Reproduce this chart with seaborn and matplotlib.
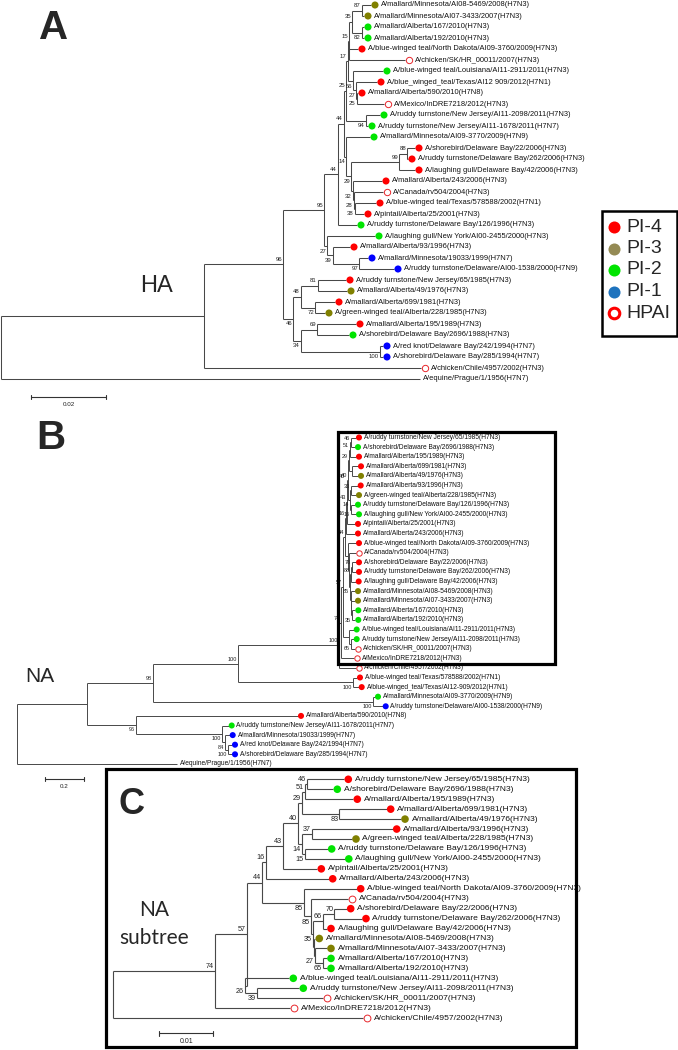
import matplotlib
matplotlib.use("Agg")
import numpy as np
import pandas as pd
import seaborn as sns
import matplotlib.pyplot as plt
from matplotlib.patches import Rectangle

sns.set_theme(style="white")
plt.rcParams['font.family'] = ['Liberation Sans', 'DejaVu Sans']

# ------------------------------------------------------------------ data
CAT_COLORS = {"PI-4": "#ff0000", "PI-3": "#808000", "PI-2": "#00e400", "PI-1": "#0000ff"}
HPAI_COLOR = "#e8262b"
LEGEND_LABELS = ["PI-4", "PI-3", "PI-2", "PI-1", "HPAI"]
LEGEND_COLORS = ["#ff0000", "#948a54", "#00e400", "#1e73be", "#ff0000"]

# ---- Panel A (HA)
A_leaves = [
    "A/mallard/Minnesota/AI08-5469/2008(H7N3)", "A/mallard/Minnesota/AI07-3433/2007(H7N3)",
    "A/mallard/Alberta/167/2010(H7N3)", "A/mallard/Alberta/192/2010(H7N3)",
    "A/blue-winged teal/North Dakota/AI09-3760/2009(H7N3)", "A/chicken/SK/HR_00011/2007(H7N3)",
    "A/blue-winged teal/Louisiana/AI11-2911/2011(H7N3)", "A/blue_winged_teal/Texas/AI12 909/2012(H7N1)",
    "A/mallard/Alberta/590/2010(H7N8)", "A/Mexico/InDRE7218/2012(H7N3)",
    "A/ruddy turnstone/New Jersey/AI11-2098/2011(H7N3)", "A/ruddy turnstone/New Jersey/AI11-1678/2011(H7N7)",
    "A/mallard/Minnesota/AI09-3770/2009(H7N9)", "A/shorebird/Delaware Bay/22/2006(H7N3)",
    "A/ruddy turnstone/Delaware Bay/262/2006(H7N3)", "A/laughing gull/Delaware Bay/42/2006(H7N3)",
    "A/mallard/Alberta/243/2006(H7N3)", "A/Canada/rv504/2004(H7N3)",
    "A/blue-winged teal/Texas/578588/2002(H7N1)", "A/pintail/Alberta/25/2001(H7N3)",
    "A/ruddy turnstone/Delaware Bay/126/1996(H7N3)", "A/laughing gull/New York/AI00-2455/2000(H7N3)",
    "A/mallard/Alberta/93/1996(H7N3)", "A/mallard/Minnesota/19033/1999(H7N7)",
    "A/ruddy turnstone/Delaware/AI00-1538/2000(H7N9)", "A/ruddy turnstone/New Jersey/65/1985(H7N3)",
    "A/mallard/Alberta/49/1976(H7N3)", "A/mallard/Alberta/699/1981(H7N3)",
    "A/green-winged teal/Alberta/228/1985(H7N3)", "A/mallard/Alberta/195/1989(H7N3)",
    "A/shorebird/Delaware Bay/2696/1988(H7N3)", "A/red knot/Delaware Bay/242/1994(H7N7)",
    "A/shorebird/Delaware Bay/285/1994(H7N7)", "A/chicken/Chile/4957/2002(H7N3)",
    "A/equine/Prague/1/1956(H7N7)"]
A_cats = ["PI-3", "PI-3", "PI-2", "PI-2", "PI-4", "HPAI", "PI-2", "PI-4", "PI-4", "HPAI",
          "PI-2", "PI-2", "PI-2", "PI-4", "PI-4", "PI-4", "PI-4", "HPAI", "PI-4", "PI-4",
          "PI-2", "PI-2", "PI-4", "PI-1", "PI-1", "PI-4", "PI-3", "PI-4", "PI-3", "PI-4",
          "PI-2", "PI-1", "PI-1", "HPAI", "none"]
A_tip_depth = [371, 364, 364, 364, 358, 405, 383, 377, 358, 384, 380, 368, 370, 415, 408, 415,
               382, 383, 376, 364, 357, 375, 350, 368, 394, 346, 347, 335, 325, 356, 349,
               383, 383, 421, 420]
A_node_ids = ["n87", "n82", "n35", "n15", "n25b", "n27", "n56", "n17", "n94", "n25", "n88", "n99",
              "n38", "n28", "n32", "n29", "n14", "n44b", "n44", "n97", "n39", "n27b", "n95",
              "n81", "n72", "n48", "n69", "n100", "n34", "n46", "n96", "nB", "root"]
A_node_depth = [362, 362, 352, 349, 356.5, 356, 353, 347.5, 366, 346, 407, 399,
                354.5, 353.5, 352.5, 351, 346, 344, 338, 359, 333, 327, 324,
                318, 315, 301, 317, 380, 301, 293, 283, 204, 1]
A_node_children = [[0, 1], [2, 3], ["n87", "n82"], ["n35", 4, 5], [8, 9], [7, "n25b"], [6, "n27"],
                   ["n15", "n56"], [10, 11], ["n17", "n94"], [13, 14], ["n88", 15],
                   [18, 19], [17, "n38"], [16, "n28"], ["n99", "n32"], [12, "n29"], ["n25", "n14"],
                   ["n44b", 20], [23, 24], [22, "n97"], [21, "n39"], ["n44", "n27b"],
                   [25, 26], [27, 28], ["n81", "n72"], [29, 30], [31, 32], ["n69", "n100"],
                   ["n48", "n34"], ["n95", "n46"], ["n96", 33], ["nB", 34]]
A_node_support = ["87", "82", "35", "15", "25", "27", "56", "17", "94", "25", "88", "99",
                  "38", "28", "32", "29", "14", "44", "44", "97", "39", "27", "95",
                  "81", "72", "48", "69", "100", "34", "46", "96", "", ""]

# ---- NA subtree leaves (shared by panels B and C)
SUB_leaves = [
    "A/ruddy turnstone/New Jersey/65/1985(H7N3)", "A/shorebird/Delaware Bay/2696/1988(H7N3)",
    "A/mallard/Alberta/195/1989(H7N3)", "A/mallard/Alberta/699/1981(H7N3)",
    "A/mallard/Alberta/49/1976(H7N3)", "A/mallard/Alberta/93/1996(H7N3)",
    "A/green-winged teal/Alberta/228/1985(H7N3)", "A/ruddy turnstone/Delaware Bay/126/1996(H7N3)",
    "A/laughing gull/New York/AI00-2455/2000(H7N3)", "A/pintail/Alberta/25/2001(H7N3)",
    "A/mallard/Alberta/243/2006(H7N3)", "A/blue-winged teal/North Dakota/AI09-3760/2009(H7N3)",
    "A/Canada/rv504/2004(H7N3)", "A/shorebird/Delaware Bay/22/2006(H7N3)",
    "A/ruddy turnstone/Delaware Bay/262/2006(H7N3)", "A/laughing gull/Delaware Bay/42/2006(H7N3)",
    "A/mallard/Minnesota/AI08-5469/2008(H7N3)", "A/mallard/Minnesota/AI07-3433/2007(H7N3)",
    "A/mallard/Alberta/167/2010(H7N3)", "A/mallard/Alberta/192/2010(H7N3)",
    "A/blue-winged teal/Louisiana/AI11-2911/2011(H7N3)", "A/ruddy turnstone/New Jersey/AI11-2098/2011(H7N3)",
    "A/chicken/SK/HR_00011/2007(H7N3)", "A/Mexico/InDRE7218/2012(H7N3)",
    "A/chicken/Chile/4957/2002(H7N3)"]
SUB_cats = ["PI-4", "PI-2", "PI-4", "PI-4", "PI-3", "PI-4", "PI-3", "PI-2", "PI-2", "PI-4",
            "PI-4", "PI-4", "HPAI", "PI-4", "PI-4", "PI-4", "PI-3", "PI-3", "PI-2", "PI-2",
            "PI-2", "PI-2", "HPAI", "HPAI", "HPAI"]

# ---- Panel B (NA, full tree)
B_leaves = SUB_leaves + [
    "A/blue-winged teal/Texas/578588/2002(H7N1)", "A/blue-winged_teal/Texas/AI12-909/2012(H7N1)",
    "A/mallard/Minnesota/AI09-3770/2009(H7N9)", "A/ruddy turnstone/Delaware/AI00-1538/2000(H7N9)",
    "A/mallard/Alberta/590/2010(H7N8)", "A/ruddy turnstone/New Jersey/AI11-1678/2011(H7N7)",
    "A/mallard/Minnesota/19033/1999(H7N7)", "A/red knot/Delaware Bay/242/1994(H7N7)",
    "A/shorebird/Delaware Bay/285/1994(H7N7)", "A/equine/Prague/1/1956(H7N7)"]
B_cats = SUB_cats + ["PI-4", "PI-4", "PI-2", "PI-1", "PI-4", "PI-2", "PI-1", "PI-1", "PI-1", "none"]
B_tip_depth = [355.8, 354.8, 355.8, 357.8, 357.8, 357.5, 355.8, 354.8, 355.8, 354.8,
               354.8, 355.8, 355.8, 355.8, 355.8, 355.5, 354.8, 354.8, 355.1, 355.1,
               353.5, 353.5, 355.1, 353.5, 356.1,
               356.8, 358.5, 374.8, 382.5, 297.8, 228.5, 229.5, 231.8, 231.8, 176.7]
B_node_ids = ["Bn46", "Bn51", "Bn83", "Bn29", "Bn37", "Bn15", "Bn14", "Bn40", "Bn43", "Bn16",
              "Bn70", "Bn66", "Bn65", "Bn27", "Bn35", "BnW", "Bn85b", "Bn85a", "Bn44",
              "Bn39", "Bn26", "Bn57", "Bn74", "Bclust",
              "Bn100b", "Bn100d", "Bn100a", "Bn98", "Bn100g", "Bn84", "Bn100e", "Bn96", "Bn87", "Broot"]
B_node_depth = [351, 350, 352, 349, 351, 351, 349.5, 348, 347, 346,
                352, 351, 352, 351, 350.5, 350, 349, 348, 345,
                351, 349, 343, 341, 339,
                353, 372.7, 238.3, 153.3, 228, 225, 221.7, 135.7, 87.3, 16.7]
B_node_children = [[0, 1], ["Bn46", 2], [3, 4], ["Bn51", "Bn83"], [5, 6], [7, 8], ["Bn37", "Bn15"],
                   ["Bn29", "Bn14"], ["Bn40", 9], ["Bn43", 10],
                   [13, 14], ["Bn70", 15], [18, 19], [17, "Bn65"], [16, "Bn27"], ["Bn66", "Bn35"],
                   [12, "BnW"], [11, "Bn85b"], ["Bn16", "Bn85a"],
                   [21, 22], [20, "Bn39"], ["Bn44", "Bn26"], ["Bn57", 23], ["Bn74", 24],
                   [25, 26], [27, 28], ["Bclust", "Bn100b"], ["Bn100a", "Bn100d"], [32, 33],
                   [31, "Bn100g"], [30, "Bn84"], [29, "Bn100e"], ["Bn98", "Bn96"], ["Bn87", 34]]
B_node_support = ["46", "51", "40", "29", "33", "16", "14", "40", "43", "16",
                  "76", "88", "35", "", "", "85", "", "", "44",
                  "65", "", "57", "74", "100",
                  "100", "100", "100", "98", "100", "84", "100", "96", "", ""]

# ---- Panel C (NA subtree)
C_tip_depth = [344.3, 333.3, 353.3, 386.7, 401, 392.7, 352, 327.7, 344.8, 317.3,
               328.7, 356.7, 348.3, 346.7, 362, 327, 315.3, 327, 327, 327,
               289.3, 299.3, 323.3, 290.3, 363.3]
C_node_ids = ["n46", "n51", "n83", "n29", "n37", "n15", "n14", "n40", "n43", "n16",
              "n70", "n66", "n65", "n27", "n35", "nW", "n85b", "n85a", "n44",
              "n39", "n26", "n57", "n74", "Croot"]
C_node_depth = [307, 305, 339.3, 301.7, 311.7, 305, 302, 297.7, 283.3, 266,
                334.3, 323.3, 323, 315, 313.5, 313, 311, 304, 262,
                256.7, 245, 246.7, 215, 113]
C_node_children = [[0, 1], ["n46", 2], [3, 4], ["n51", "n83"], [5, 6], [7, 8], ["n37", "n15"],
                   ["n29", "n14"], ["n40", 9], ["n43", 10],
                   [13, 14], ["n70", 15], [18, 19], [17, "n65"], [16, "n27"], ["n66", "n35"],
                   [12, "nW"], [11, "n85b"], ["n16", "n85a"],
                   [21, 22], [20, "n39"], ["n44", "n26"], ["n57", 23], ["n74", 24]]
C_node_support = ["46", "51", "83", "29", "37", "15", "14", "40", "43", "16",
                  "70", "66", "65", "27", "", "35", "85", "85", "44",
                  "39", "26", "57", "74", ""]

# small horizontal nudges for support labels that would sit on top of each other
LABEL_NUDGE = {"Bn83": -5.5}


# ------------------------------------------------------------------ drawing helpers
def draw_tree(ax, leaves, cats, tips, node_ids, depths, children, support,
              row0, step, lw, fs_leaf, fs_sup, msize, up, down, dot_gap, txt_gap,
              line_color="#484848"):
    depth = dict(zip(node_ids, depths))
    kids = dict(zip(node_ids, children))
    sup = dict(zip(node_ids, support))
    ycache = {}

    def y_of(c):
        if isinstance(c, int):
            return row0 + step * c
        if c not in ycache:
            ch = kids[c]
            ycache[c] = (y_of(ch[0]) + y_of(ch[-1])) / 2.0
        return ycache[c]

    def x_of(c):
        return tips[c] if isinstance(c, int) else depth[c]

    first_child = {}
    for n in node_ids:
        ch = kids[n]
        x = depth[n]
        ax.plot([x, x], [y_of(ch[0]), y_of(ch[-1])], color=line_color, lw=lw,
                solid_capstyle="butt")
        for i, k in enumerate(ch):
            ax.plot([x, x_of(k)], [y_of(k), y_of(k)], color=line_color, lw=lw,
                    solid_capstyle="butt")
            first_child[k] = (i == 0)
    for n in node_ids:
        if sup[n] and n in first_child:
            yy = y_of(n) + (-up if first_child[n] else down)
            ax.text(depth[n] - 1.0 + LABEL_NUDGE.get(n, 0), yy, sup[n], ha="right",
                    va="center", fontsize=fs_sup, color="#222222")

    df = pd.DataFrame({"x": [tips[i] + dot_gap for i in range(len(leaves))],
                       "y": [y_of(i) for i in range(len(leaves))],
                       "cat": cats})
    filled = df[df.cat.isin(CAT_COLORS.keys())]
    sns.scatterplot(data=filled, x="x", y="y", hue="cat", palette=CAT_COLORS,
                    s=msize, linewidth=0, legend=False, ax=ax, zorder=3)
    hp = df[df.cat == "HPAI"]
    ax.scatter(hp.x, hp.y, s=msize * 0.8, facecolors="white", edgecolors=HPAI_COLOR,
               linewidths=0.7, zorder=3)
    for i, name in enumerate(leaves):
        xt = tips[i] + (3 if cats[i] == "none" else txt_gap)
        ax.text(xt, y_of(i), name, ha="left", va="center", fontsize=fs_leaf, color="#111111")


def scale_bar(ax, x0, x1, y, label, fs):
    ax.plot([x0, x1], [y, y], color="#333333", lw=0.8)
    for xx in (x0, x1):
        ax.plot([xx, xx], [y - 2.2, y + 2.2], color="#333333", lw=0.8)
    ax.text((x0 + x1) / 2, y + 8, label, ha="center", va="center", fontsize=fs, color="#222222")


# ------------------------------------------------------------------ figure
fig = plt.figure(figsize=(6.78, 10.5), dpi=100)
ax = fig.add_axes([0, 0, 1, 1])
ax.set_xlim(0, 678)
ax.set_ylim(1050, 0)
ax.axis("off")

# Panel A
draw_tree(ax, A_leaves, A_cats, A_tip_depth, A_node_ids, A_node_depth, A_node_children,
          A_node_support, row0=5, step=11.0, lw=0.75, fs_leaf=5.4, fs_sup=4.3, msize=26,
          up=4.6, down=5.4, dot_gap=4, txt_gap=10)
ax.text(53.5, 28, "A", ha="center", va="center", fontsize=29, fontweight="bold")
ax.text(156, 286, "HA", ha="center", va="center", fontsize=17)
scale_bar(ax, 31, 106, 396.7, "0.02", 4.5)

# Panel B
draw_tree(ax, B_leaves, B_cats, B_tip_depth, B_node_ids, B_node_depth, B_node_children,
          B_node_support, row0=437.5, step=9.6, lw=0.7, fs_leaf=4.8, fs_sup=4.0, msize=19,
          up=4.3, down=5.0, dot_gap=3.2, txt_gap=8)
ax.text(51, 438, "B", ha="center", va="center", fontsize=29, fontweight="bold")
ax.text(40, 676, "NA", ha="center", va="center", fontsize=15)
scale_bar(ax, 45, 84, 779, "0.2", 4.5)
ax.add_patch(Rectangle((338, 432), 217, 232, fill=False, lw=2.3, edgecolor="black", zorder=5))

# Panel C
draw_tree(ax, SUB_leaves, SUB_cats, C_tip_depth, C_node_ids, C_node_depth, C_node_children,
          C_node_support, row0=779.3, step=9.95, lw=0.8, fs_leaf=6.1, fs_sup=5.2, msize=30,
          up=4.6, down=5.6, dot_gap=4, txt_gap=10.5)
ax.text(131, 805, "C", ha="center", va="center", fontsize=26, fontweight="bold")
ax.text(154, 910, "NA", ha="center", va="center", fontsize=15, family=["Lato", "DejaVu Sans"])
ax.text(154, 938, "subtree", ha="center", va="center", fontsize=15, family=["Lato", "DejaVu Sans"])
scale_bar(ax, 159.3, 213.3, 1033.3, "0.01", 5.0)
ax.add_patch(Rectangle((106, 769), 470, 278, fill=False, lw=2.3, edgecolor="black", zorder=5))

# Legend
ax.add_patch(Rectangle((602, 211), 75, 125, fill=False, lw=1.8, edgecolor="black", zorder=5))
leg_y = [227, 248.5, 270, 291.5, 313]
for lab, col, yy in zip(LEGEND_LABELS, LEGEND_COLORS, leg_y):
    if lab == "HPAI":
        ax.scatter([614], [yy], s=58, facecolors="white", edgecolors=col, linewidths=2.2, zorder=6)
    else:
        ax.scatter([614], [yy], s=75, color=col, linewidths=0, zorder=6)
    ax.text(626, yy, lab, ha="left", va="center", fontsize=14)

fig.savefig("out.png", dpi=100)
